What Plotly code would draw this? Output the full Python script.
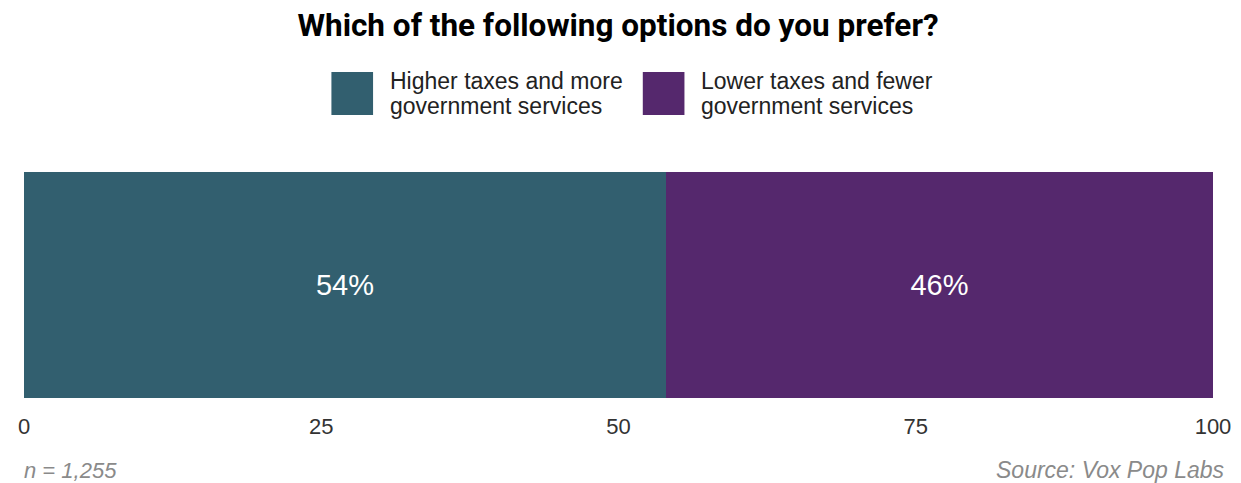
import plotly.graph_objects as go

categories = ["Higher taxes and more<br>government services", "Lower taxes and fewer<br>government services"]
values = [54, 46]
colors = ["#325F6F", "#55286D"]
value_labels = ["54%", "46%"]
tick_vals = [0, 25, 50, 75, 100]

OFF = 8  # page body margin offset
W, H = 1241 - OFF, 483 - OFF
# target page-pixel positions of plot area
X0, X1, Y0, Y1 = 18, 1217, 172, 398
ML, MR, MT, MB = X0 - OFF, 1241 - X1, Y0 - OFF, 483 - Y1
PW = W - ML - MR
PH = H - MT - MB

def px(x):
    return (x - X0) / PW

def py(y):
    return (Y1 - y) / PH

fig = go.Figure()
for cat, v, c, lab in zip(categories, values, colors, value_labels):
    fig.add_trace(go.Bar(
        x=[v], y=["q"], orientation="h", name=cat.replace("<br>", " "),
        marker=dict(color=c, line=dict(width=0)),
        text=[lab], textposition="inside", insidetextanchor="middle",
        textfont=dict(family="Liberation Sans, Arial", size=29, color="white"),
        showlegend=False, width=1,
    ))

# custom legend
leg_x = [328, 642]
shapes = []
annotations = []
for i, (cat, c) in enumerate(zip(categories, colors)):
    x0 = leg_x[i]
    shapes.append(dict(type="rect", xref="paper", yref="paper",
                       x0=px(x0), x1=px(x0 + 42), y0=py(115), y1=py(72),
                       fillcolor=c, line=dict(width=0)))
    for j, line in enumerate(cat.split("<br>")):
        annotations.append(dict(xref="paper", yref="paper", x=px(x0 + 57), y=py(81 + 25 * j),
                                text=line, showarrow=False, xanchor="left", yanchor="middle",
                                align="left",
                                font=dict(family="Liberation Sans, Arial", size=23, color="#222")))

annotations.append(dict(xref="paper", yref="paper", x=px(16), y=py(470), text="<i>n = 1,255</i>",
                        showarrow=False, xanchor="left", yanchor="middle",
                        font=dict(family="Liberation Sans, Arial", size=22, color="#8a8a8a")))
annotations.append(dict(xref="paper", yref="paper", x=px(1231), y=py(470), text="<i>Source: Vox Pop Labs</i>",
                        showarrow=False, xanchor="right", yanchor="middle",
                        font=dict(family="Liberation Sans, Arial", size=23, color="#8a8a8a")))

fig.update_layout(
    width=W, height=H,
    margin=dict(l=ML, r=MR, t=MT, b=MB),
    barmode="stack",
    bargap=0,
    plot_bgcolor="white", paper_bgcolor="white",
    title=dict(text="<b>Which of the following options do you prefer?</b>",
               x=(624 - OFF) / W, xref="paper", xanchor="center",
               y=1 - (25 - OFF) / H, yref="container", yanchor="middle",
               font=dict(family="Roboto", size=31.5, color="#000", weight=900)),
    xaxis=dict(range=[0, 100], tickvals=tick_vals, showgrid=False, zeroline=False,
               showline=False, ticks="", ticklabelstandoff=13,
               tickfont=dict(family="Liberation Sans, Arial", size=22, color="#333")),
    yaxis=dict(range=[-0.5, 0.5], showticklabels=False, showgrid=False, zeroline=False,
               showline=False),
    shapes=shapes,
    annotations=annotations,
)

fig.write_html("out.html")
